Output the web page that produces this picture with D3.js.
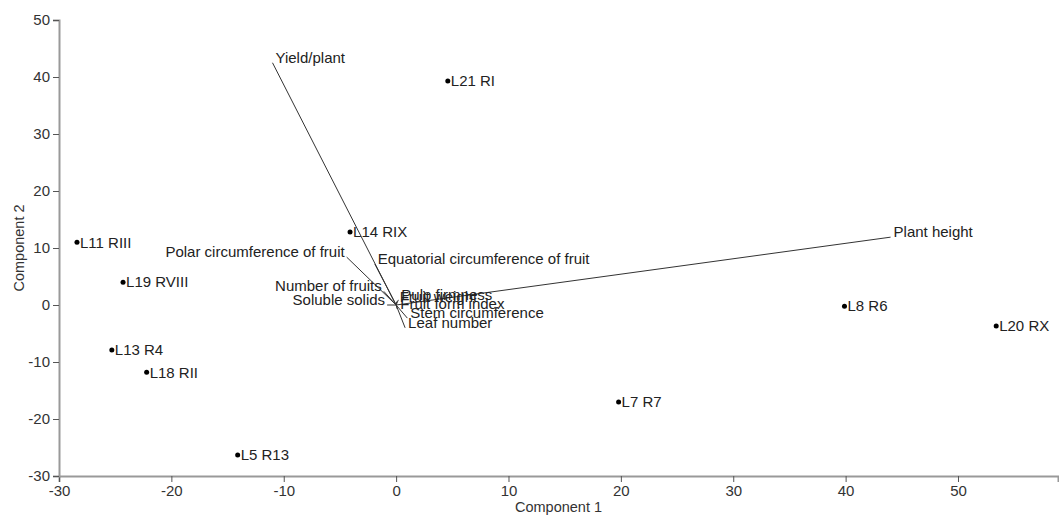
<!DOCTYPE html>
<html>
<head>
<meta charset="utf-8">
<script src="https://cdn.jsdelivr.net/npm/d3@7"></script>
<style>
  body { margin: 0; background: #fff; }
  svg { font-family: "Liberation Sans", Arial, sans-serif; }
  .axis text { font-size: 15px; fill: #333; }
  .axis .domain { stroke: #999; stroke-width: 2; }
  .axis .tick line { stroke: #555; }
</style>
</head>
<body>
<svg id="chart"></svg>
<script>
// observations (scores)
const obsNames = ["L21 RI", "L14 RIX", "L11 RIII", "L19 RVIII", "L13 R4", "L18 RII", "L5 R13", "L7 R7", "L8 R6", "L20 RX"];
const obsX = [4.6, -4.1, -28.4, -24.3, -25.3, -22.2, -14.1, 19.8, 39.9, 53.4];
const obsY = [39.3, 12.8, 11.0, 4.0, -7.9, -11.8, -26.3, -17.0, -0.2, -3.7];

// variables (loadings, already scaled to the score space)
const varNames = ["Yield/plant", "Plant height", "Polar circumference of fruit", "Equatorial circumference of fruit",
  "Number of fruits", "Soluble solids", "Pulp firmness", "Fruit weight", "Fruit form index",
  "Stem circumference", "Leaf number"];
const varX = [-11.0, 44.0, -4.4, -1.9, -1.1, -0.8, 0.2, 0.05, 0.1, 1.0, 0.8];
const varY = [42.5, 11.9, 8.4, 7.2, 2.4, 0.0, 0.9, 0.6, -0.7, -2.3, -4.0];

const xDomain = [-30, 58.9];
const yDomain = [-30, 50];

const config = {
  width: 1059, height: 516,
  margin: { top: 20, right: 1, bottom: 40, left: 59 }
};

const svg = d3.select("#chart")
  .attr("width", config.width)
  .attr("height", config.height);

const innerW = config.width - config.margin.left - config.margin.right;
const innerH = config.height - config.margin.top - config.margin.bottom;

const g = svg.append("g")
  .attr("transform", `translate(${config.margin.left},${config.margin.top})`);

const x = d3.scaleLinear().domain(xDomain).range([0, innerW]);
const y = d3.scaleLinear().domain(yDomain).range([innerH, 0]);

// axes
g.append("g")
  .attr("class", "axis x-axis")
  .attr("transform", `translate(0,${innerH})`)
  .call(d3.axisBottom(x).tickFormat(d => String(d)));

g.append("g")
  .attr("class", "axis y-axis")
  .call(d3.axisLeft(y).tickFormat(d => String(d)));

svg.append("text")
  .attr("x", config.margin.left + innerW / 2)
  .attr("y", config.height - 4)
  .attr("text-anchor", "middle")
  .style("font-size", "14.5px")
  .style("fill", "#333")
  .text("Component 1");

svg.append("text")
  .attr("transform", `translate(24,${config.margin.top + innerH / 2}) rotate(-90)`)
  .attr("text-anchor", "middle")
  .style("font-size", "14.5px")
  .style("fill", "#333")
  .text("Component 2");

// loading vectors
const vars = varNames.map((name, i) => ({ name, x: varX[i], y: varY[i] }));

g.selectAll(".vec")
  .data(vars)
  .join("line")
  .attr("class", "vec")
  .attr("x1", x(0))
  .attr("y1", y(0))
  .attr("x2", d => x(d.x))
  .attr("y2", d => y(d.y))
  .attr("stroke", "#333")
  .attr("stroke-width", 1);

// labels pointing back-left get anchored at their end
function leftSide(d) {
  const ang = Math.atan2(d.y, d.x) * 180 / Math.PI;
  return ang > 110 || ang < -110;
}

g.selectAll(".vec-label")
  .data(vars)
  .join("text")
  .attr("class", "vec-label")
  .attr("x", d => x(d.x) + (leftSide(d) ? -2 : 3))
  .attr("y", d => y(d.y))
  .attr("text-anchor", d => leftSide(d) ? "end" : "start")
  .style("font-size", "15px")
  .style("fill", "#222")
  .text(d => d.name);

// observation points
const obs = obsNames.map((name, i) => ({ name, x: obsX[i], y: obsY[i] }));

g.selectAll(".dot")
  .data(obs)
  .join("circle")
  .attr("class", "dot")
  .attr("cx", d => x(d.x))
  .attr("cy", d => y(d.y))
  .attr("r", 2.5)
  .attr("fill", "#000");

g.selectAll(".obs-label")
  .data(obs)
  .join("text")
  .attr("class", "obs-label")
  .attr("x", d => x(d.x) + 3)
  .attr("y", d => y(d.y))
  .attr("dy", "0.35em")
  .style("font-size", "15px")
  .style("fill", "#222")
  .text(d => d.name);
</script>
</body>
</html>
